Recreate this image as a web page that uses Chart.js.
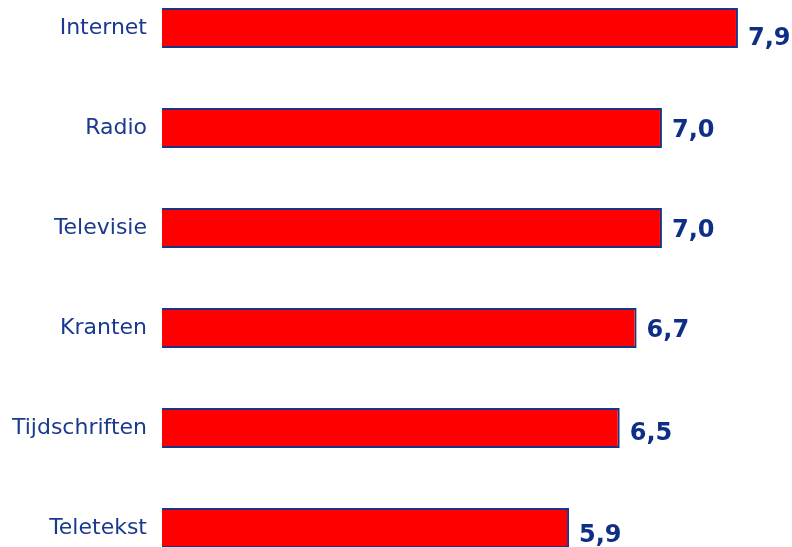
<!DOCTYPE html>
<html>
<head>
<meta charset="utf-8">
<script src="https://cdn.jsdelivr.net/npm/chart.js@4.4.0/dist/chart.umd.min.js"></script>
<style>
  html, body { margin: 0; padding: 0; background: #fff; overflow: hidden; width: 792px; height: 547px; }
  #chart { position: absolute; left: 0; top: -22px; }
</style>
</head>
<body>
<canvas id="chart" width="792" height="600"></canvas>
<script>
// Categories and scores
const categories = ["Internet", "Radio", "Televisie", "Kranten", "Tijdschriften", "Teletekst"];
const scores = [7.9, 7.0, 7.0, 6.7, 6.5, 5.9];

const navy = "#1a3a8f";
const valueNavy = "#0f2e86";

// Draws the value next to the end of each bar
// (baseline shift per bar, the original labels do not sit at the same height)
const baselineShift = [17, 9, 9, 9, 12, 14];
const valueLabels = {
  id: "valueLabels",
  afterDatasetsDraw(chart) {
    const ctx = chart.ctx;
    const meta = chart.getDatasetMeta(0);
    ctx.save();
    ctx.font = "bold 24px 'DejaVu Sans', Verdana, sans-serif";
    ctx.fillStyle = valueNavy;
    ctx.textAlign = "left";
    ctx.textBaseline = "alphabetic";
    meta.data.forEach(function (bar, i) {
      const txt = scores[i].toFixed(1).replace(".", ",");
      ctx.fillText(txt, bar.x + 10, bar.y + baselineShift[i]);
    });
    ctx.restore();
  },
};

const canvasRef = document.getElementById("chart");

let myChart = new Chart(canvasRef, {
  type: "bar",
  data: {
    labels: categories,
    datasets: [
      {
        label: "Score",
        data: scores,
        backgroundColor: "#ff0000",
        borderColor: "#1c338a",
        borderWidth: 2,
        borderSkipped: false,
        barPercentage: 0.4,
        categoryPercentage: 1,
      },
    ],
  },
  options: {
    indexAxis: "y",
    responsive: false,
    animation: false,
    layout: { padding: 0 },
    plugins: {
      legend: { display: false },
      tooltip: { enabled: false },
    },
    scales: {
      x: {
        display: false,
        min: 1.08,
        max: 8.54,
      },
      y: {
        border: { display: false },
        grid: { display: false, drawTicks: false },
        ticks: {
          color: navy,
          padding: 15,
          font: { family: "'DejaVu Sans', Verdana, sans-serif", size: 22 },
        },
        afterFit(scale) {
          scale.width = 162;
          scale.paddingTop = 0;
          scale.paddingBottom = 0;
        },
      },
    },
  },
  plugins: [valueLabels],
});
</script>
</body>
</html>
